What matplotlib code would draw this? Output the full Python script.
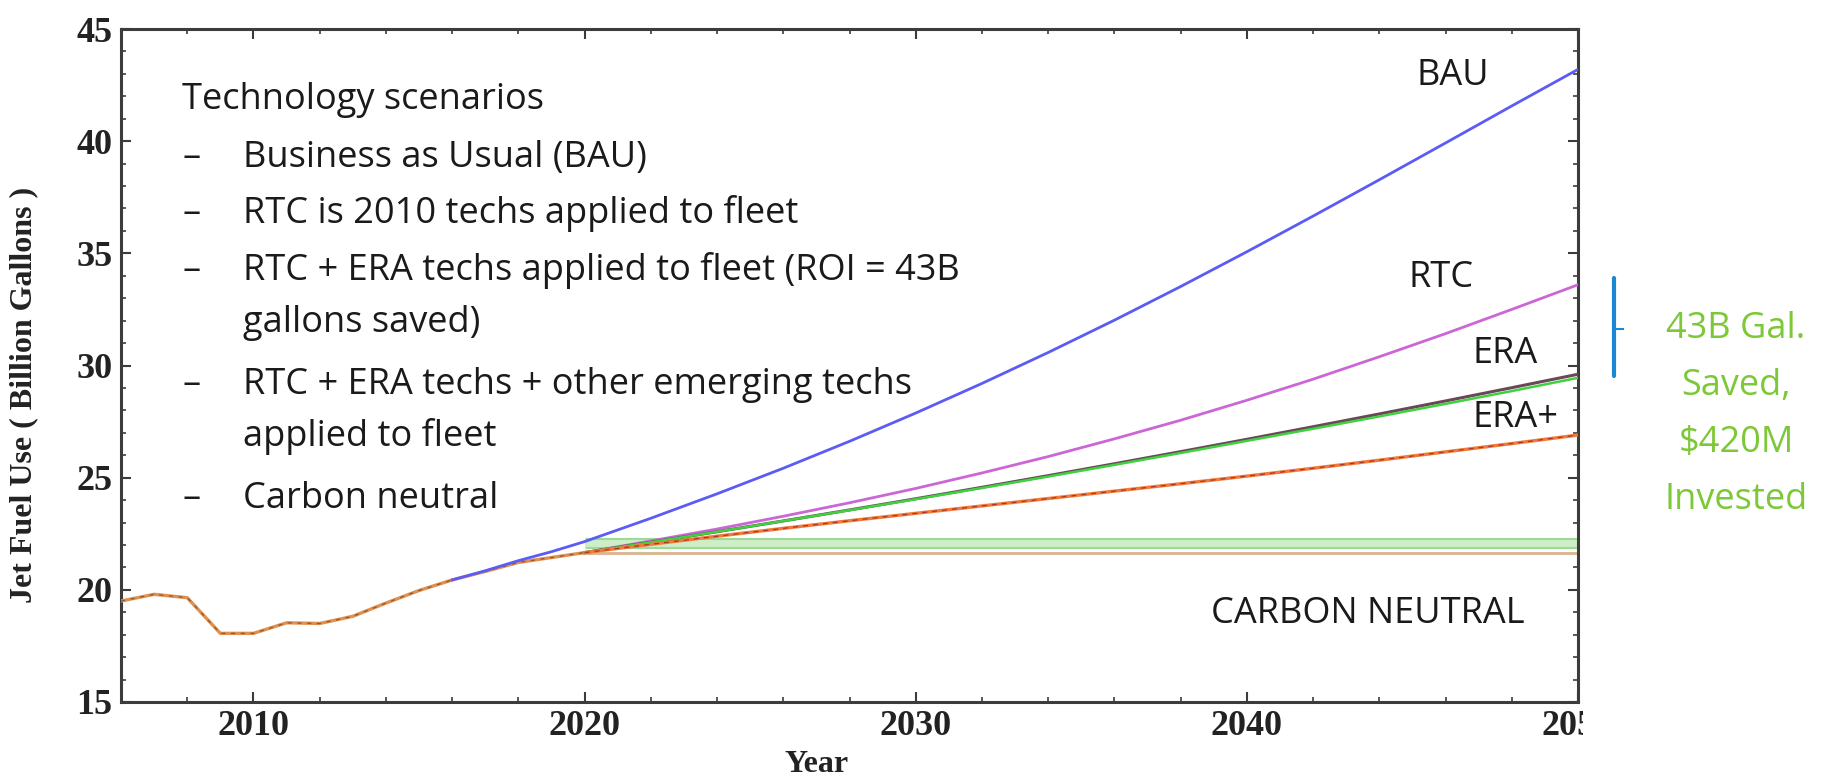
import matplotlib
matplotlib.use("Agg")
import matplotlib.pyplot as plt
import matplotlib.patheffects as pe
from matplotlib.ticker import MultipleLocator
from matplotlib.transforms import Bbox, TransformedBbox

# historical jet fuel use (billion gallons)
hist_years = [2006, 2007, 2008, 2009, 2010, 2011, 2012, 2013, 2014, 2015,
              2016, 2017, 2018, 2019, 2020]
hist_fuel = [19.5, 19.8, 19.65, 18.06, 18.06, 18.53, 18.5, 18.82, 19.41, 19.97,
             20.44, 20.82, 21.22, 21.44, 21.66]

# business as usual
bau_years = [2016, 2017, 2018, 2019, 2020, 2022, 2024, 2026, 2028, 2030, 2032,
             2034, 2036, 2038, 2040, 2042, 2044, 2046, 2048, 2050]
bau_fuel = [20.44, 20.85, 21.3, 21.7, 22.15, 23.19, 24.28, 25.42, 26.62, 27.88, 29.2,
            30.58, 32.02, 33.52, 35.07, 36.66, 38.28, 39.92, 41.57, 43.2]

# technology scenarios after 2020
proj_years = [2020, 2022, 2024, 2026, 2028, 2030, 2032, 2034, 2036, 2038, 2040,
              2042, 2044, 2046, 2048, 2050]
rtc_fuel = [21.66, 22.18, 22.71, 23.28, 23.88, 24.52, 25.21, 25.94, 26.73, 27.56, 28.45,
            29.39, 30.39, 31.42, 32.5, 33.6]
era_fuel = [21.66, 22.12, 22.59, 23.07, 23.56, 24.06, 24.57, 25.09, 25.62, 26.16, 26.71,
            27.27, 27.84, 28.42, 29.01, 29.61]
era_alt_fuel = [21.66, 22.12, 22.59, 23.07, 23.55, 24.04, 24.54, 25.05, 25.57, 26.1, 26.64,
                27.18, 27.73, 28.29, 28.86, 29.45]
eraplus_fuel = [21.66, 22.03, 22.39, 22.74, 23.08, 23.41, 23.74, 24.07, 24.4, 24.73, 25.07,
                25.42, 25.78, 26.15, 26.52, 26.9]

# carbon neutral growth caps
cn_years = [2020, 2050]
cn_green = [22.08, 22.08]
cn_tan = [21.65, 21.65]

legend_title = "Technology scenarios"
legend_lines = [
    ("\u2013", "Business as Usual (BAU)"),
    ("\u2013", "RTC is 2010 techs applied to fleet"),
    ("\u2013", "RTC + ERA techs applied to fleet (ROI = 43B"),
    ("", "gallons saved)"),
    ("\u2013", "RTC + ERA techs + other emerging techs"),
    ("", "applied to fleet"),
    ("\u2013", "Carbon neutral"),
]
savings_note = ["43B Gal.", "Saved,", "$420M", "Invested"]

W, H = 1823, 780
SERIF = "Liberation Serif"
SANS = "Open Sans"


def fx(px):
    return px / W


def fy(py):
    return 1 - py / H


fig = plt.figure(figsize=(W / 100, H / 100), dpi=100)
ax = fig.add_axes([fx(121), fy(702), fx(1578 - 121), (702 - 29) / H])

# lines
ax.plot(hist_years, hist_fuel, color="#e0914f", lw=2.4, zorder=3)
ax.plot(hist_years, hist_fuel, color="#9a5a30", lw=1.0, dashes=(3, 4), zorder=3)
ax.plot(bau_years, bau_fuel, color="#5b5bf5", lw=2.0, zorder=4)
ax.plot(proj_years, rtc_fuel, color="#cc66d6", lw=2.0, zorder=4)
ax.plot(proj_years, era_fuel, color="#6a4858", lw=2.2, zorder=4)
ax.plot(proj_years, era_alt_fuel, color="#3fd23f", lw=1.8, zorder=5)
ax.plot(proj_years, eraplus_fuel, color="#f07a3a", lw=2.4, zorder=5)
ax.plot(proj_years, eraplus_fuel, color="#b0341f", lw=0.9, dashes=(4, 4), zorder=5)
ax.plot(cn_years, cn_green, color="#cdeec6", lw=5, solid_capstyle="butt", zorder=2,
        path_effects=[pe.Stroke(linewidth=8, foreground="#9bdb96"), pe.Normal()])
ax.plot(cn_years, cn_tan, color="#dbb896", lw=2.2, zorder=2)

ax.set_xlim(2006, 2050)
ax.set_ylim(15, 45)

ax.xaxis.set_major_locator(MultipleLocator(10))
ax.xaxis.set_minor_locator(MultipleLocator(2))
ax.yaxis.set_major_locator(MultipleLocator(5))
ax.yaxis.set_minor_locator(MultipleLocator(1))

for s in ax.spines.values():
    s.set_linewidth(2.2)
    s.set_color("#3c3c3c")

ax.tick_params(which="both", direction="in", top=True, right=True,
               color="#3c3c3c", labelcolor="#222222")
ax.tick_params(which="major", length=7, width=1.5, labelsize=26, pad=6)
ax.tick_params(which="minor", length=3.6, width=1.2)
for lab in ax.get_xticklabels() + ax.get_yticklabels():
    lab.set_fontfamily(SERIF)
    lab.set_fontweight("bold")

ax.set_xlabel("Year", fontsize=23, fontfamily=SERIF, fontweight="bold", color="#222222")
ax.xaxis.set_label_coords((817 - 121) / 1457, (702 - 765) / 673)
ax.xaxis.label.set_va("center")
ax.set_ylabel("Jet Fuel Use ( Billion Gallons )", fontsize=23, fontfamily=SERIF,
              fontweight="bold", color="#222222")
ax.yaxis.set_label_coords((24 - 121) / 1457, (702 - 395) / 673)
ax.yaxis.label.set_va("center")

# the last year label is cut off at the frame, as in the original
clip = TransformedBbox(Bbox([[0, 0], [fx(1583), 1]]), fig.transFigure)
for t in ax.xaxis.get_major_ticks():
    t.label1.set_clip_box(clip)
    t.label1.set_clip_on(True)

# scenario description block
tkw = dict(fontsize=26, fontfamily=SANS, color="#1a1a1a", va="baseline")
fig.text(fx(182), fy(109), legend_title, **tkw)
baselines = [167, 223, 280, 332, 394, 446, 508]
for (dash, line), b in zip(legend_lines, baselines):
    if dash:
        fig.text(fx(182), fy(b), dash, **tkw)
    fig.text(fx(243), fy(b), line, **tkw)

# curve labels
fig.text(fx(1416), fy(85), "BAU", **tkw)
fig.text(fx(1409), fy(287), "RTC", **tkw)
fig.text(fx(1473), fy(363), "ERA", **tkw)
fig.text(fx(1473), fy(427), "ERA+", **tkw)
fig.text(fx(1211), fy(623), "CARBON NEUTRAL", **tkw)

# savings bracket between RTC and ERA end points
xb = 2050 + 36 / 33.1
ax.plot([xb, xb], [rtc_fuel[-1] + 0.3, era_fuel[-1] - 0.1], color="#1a88d2", lw=3,
        solid_capstyle="round", clip_on=False)
ym = (rtc_fuel[-1] + era_fuel[-1]) / 2
ax.plot([xb, xb + 9 / 33.1], [ym, ym], color="#1a88d2", lw=1.5, clip_on=False)

for i, line in enumerate(savings_note):
    fig.text(fx(1736), fy(338 + 57 * i), line, fontsize=26, fontfamily=SANS,
             color="#7dc836", ha="center", va="baseline")

fig.savefig("out.png", dpi=100, facecolor="white")
